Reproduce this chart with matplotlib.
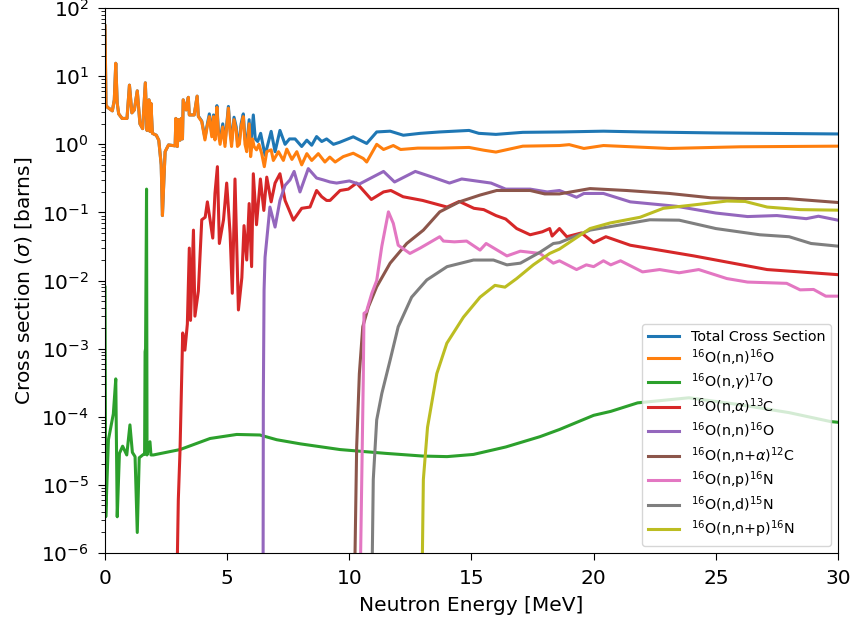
import numpy as np
import matplotlib
matplotlib.use('Agg')
import matplotlib.pyplot as plt

# neutron energies [MeV] and cross sections [barns]
total_E = [0.0, 0.04, 0.1, 0.2, 0.3, 0.38, 0.44, 0.5, 0.56, 0.7, 0.9, 1.0, 1.1, 1.2, 1.32,
           1.43, 1.54, 1.65, 1.72, 1.80, 1.84, 1.88, 1.94, 2.1, 2.2, 2.3, 2.35, 2.41, 2.46,
           2.6, 2.87, 2.9, 2.96, 3.01, 3.07, 3.12, 3.17, 3.2, 3.32, 3.41, 3.45, 3.65, 3.77,
           3.82, 3.96, 4.09, 4.19, 4.27, 4.37, 4.44, 4.5, 4.58, 4.64, 4.71, 4.82, 4.91, 5.05,
           5.12, 5.18, 5.28, 5.37, 5.42, 5.5, 5.57, 5.66, 5.73, 5.8, 5.9, 5.96, 6.07, 6.15,
           6.25, 6.37, 6.55, 6.8, 6.96, 7.16, 7.37, 7.55, 7.78, 8.05, 8.26, 8.46, 8.66, 8.87,
           9.07, 9.35, 9.6, 10.16, 10.71, 11.12, 11.67, 12.21, 12.9, 13.7, 14.9, 15.3, 16.0,
           17.1, 18.7, 20.4, 22.0, 25.0, 30.0]
total_xs = [55, 3.8, 3.5, 3.3, 3.1, 4.5, 15.5, 4.0, 2.8, 2.4, 2.4, 7.4, 2.9, 3.2, 6.1,
            2.0, 1.7, 8.0, 1.6, 4.5, 1.55, 4.0, 1.45, 1.36, 1.15, 0.5, 0.09, 0.3, 0.78,
            0.98, 0.95, 2.4, 0.93, 2.3, 1.15, 2.4, 1.2, 4.5, 3.2, 4.9, 2.7, 2.7, 5.1,
            2.6, 2.2, 1.25, 2.0, 2.8, 1.4, 2.7, 1.3, 3.7, 1.6, 1.15, 2.0, 1.05, 3.6,
            1.65, 1.1, 2.5, 1.8, 1.1, 1.15, 2.0, 2.8, 1.2, 0.95, 2.3, 0.9, 2.7, 1.2,
            1.1, 1.45, 0.69, 1.55, 0.78, 1.6, 1.0, 1.2, 1.2, 0.93, 1.15, 0.97, 1.3, 1.1,
            1.2, 1.0, 1.07, 1.29, 1.03, 1.52, 1.56, 1.36, 1.45, 1.52, 1.6, 1.45, 1.4,
            1.5, 1.52, 1.56, 1.52, 1.47, 1.42]

elastic_E = [0.0, 0.04, 0.1, 0.2, 0.3, 0.38, 0.44, 0.5, 0.56, 0.7, 0.9, 1.0, 1.1, 1.2, 1.32,
             1.43, 1.54, 1.65, 1.72, 1.80, 1.84, 1.88, 1.94, 2.1, 2.2, 2.3, 2.35, 2.41, 2.46,
             2.6, 2.87, 2.9, 2.96, 3.01, 3.07, 3.12, 3.17, 3.2, 3.32, 3.41, 3.45, 3.65, 3.77,
             3.82, 3.96, 4.09, 4.19, 4.27, 4.37, 4.44, 4.5, 4.58, 4.64, 4.71, 4.82, 4.91, 5.05,
             5.12, 5.18, 5.28, 5.37, 5.42, 5.5, 5.57, 5.66, 5.73, 5.8, 5.9, 5.96, 6.04, 6.1,
             6.2, 6.3, 6.41, 6.52, 6.62, 6.8, 6.89, 7.1, 7.3, 7.44, 7.65, 7.85, 8.05, 8.26,
             8.46, 8.73, 9.0, 9.2, 9.42, 9.75, 10.16, 10.57, 10.71, 11.12, 11.4, 11.8, 12.1,
             12.8, 13.7, 14.9, 15.5, 16.0, 17.1, 18.6, 19.0, 19.6, 20.4, 23.1, 26.0, 30.0]
elastic_xs = [55, 3.8, 3.5, 3.3, 3.1, 4.5, 15.5, 4.0, 2.8, 2.4, 2.4, 7.4, 2.9, 3.2, 6.1,
              2.0, 1.7, 8.0, 1.6, 4.5, 1.55, 4.0, 1.45, 1.36, 1.15, 0.5, 0.09, 0.3, 0.78,
              0.98, 0.95, 2.4, 0.93, 2.3, 1.15, 2.4, 1.2, 4.5, 3.2, 4.9, 2.7, 2.7, 5.1,
              2.55, 2.15, 1.16, 1.9, 2.55, 1.29, 2.55, 1.16, 3.5, 1.45, 1.0, 1.8, 0.93, 3.4,
              1.45, 0.93, 2.3, 1.6, 0.93, 1.0, 1.8, 2.55, 1.0, 0.78, 2.0, 0.66, 1.2, 0.93,
              0.83, 1.0, 0.74, 0.47, 0.78, 0.83, 0.58, 0.78, 0.58, 0.85, 0.6, 0.78, 0.5, 0.73,
              0.58, 0.73, 0.55, 0.65, 0.55, 0.66, 0.74, 0.62, 0.55, 1.0, 0.84, 0.96, 0.84,
              0.88, 0.88, 0.9, 0.82, 0.77, 0.94, 0.96, 0.99, 0.87, 0.96, 0.87, 0.92, 0.94]

capture_E = [0.0, 0.03, 0.14, 0.34, 0.44, 0.5, 0.59, 0.72, 0.89, 1.02, 1.12, 1.23, 1.32,
             1.40, 1.57, 1.62, 1.64, 1.66, 1.70, 1.72, 1.84, 1.88, 1.98, 3.07, 4.3, 5.39,
             6.34, 7.03, 8.0, 9.62, 11.5, 13.0, 14.0, 15.08, 16.4, 17.8, 18.6, 20.0, 20.7,
             21.8, 23.9, 26.0, 28.0, 29.7, 30.0]
capture_xs = [8e-3, 3.4e-6, 4.6e-5, 1.1e-4, 3.6e-4, 3.4e-6, 2.9e-5, 3.7e-5, 2.75e-5, 7.6e-5,
              3e-5, 2.6e-5, 2e-6, 2.5e-5, 2.8e-5, 2.8e-5, 9e-4, 1e-3, 0.22, 2.75e-5, 4.3e-5,
              2.75e-5, 2.75e-5, 3.3e-5, 4.8e-5, 5.5e-5, 5.4e-5, 4.6e-5, 4.0e-5, 3.3e-5, 2.9e-5,
              2.65e-5, 2.6e-5, 2.8e-5, 3.6e-5, 5.1e-5, 6.5e-5, 1.05e-4, 1.2e-4, 1.6e-4, 1.9e-4,
              1.5e-4, 1.15e-4, 8.5e-5, 8.3e-5]

alpha_E = [2.95, 3.0, 3.07, 3.18, 3.27, 3.37, 3.45, 3.5, 3.62, 3.68, 3.82, 3.96, 4.1, 4.19,
           4.3, 4.41, 4.5, 4.6, 4.68, 4.85, 4.98, 5.12, 5.21, 5.32, 5.46, 5.6, 5.69, 5.8,
           5.9, 6.0, 6.07, 6.2, 6.36, 6.5, 6.62, 6.8, 6.96, 7.16, 7.37, 7.71, 8.05, 8.39,
           8.66, 8.87, 9.07, 9.21, 9.62, 9.96, 10.3, 10.9, 11.4, 11.7, 12.2, 13.0, 14.0,
           14.5, 15.1, 15.5, 16.0, 16.4, 16.85, 17.4, 17.9, 18.2, 18.3, 18.6, 18.9, 19.5,
           20.0, 20.5, 21.5, 24.1, 27.1, 30.0]
alpha_xs = [5e-7, 6e-6, 3.2e-5, 1.7e-3, 9.5e-4, 2.3e-3, 0.03, 2.6e-3, 0.055, 3e-3, 7e-3,
            0.078, 0.085, 0.143, 0.078, 0.042, 0.19, 0.47, 0.035, 0.078, 0.27, 0.049, 6.5e-3,
            0.31, 3.7e-3, 0.011, 0.064, 0.02, 0.135, 0.016, 0.37, 0.066, 0.31, 0.107, 0.33,
            0.143, 0.27, 0.37, 0.15, 0.077, 0.115, 0.12, 0.21, 0.17, 0.15, 0.15, 0.21, 0.22,
            0.27, 0.155, 0.2, 0.21, 0.17, 0.15, 0.12, 0.145, 0.115, 0.11, 0.09, 0.08, 0.058,
            0.047, 0.052, 0.058, 0.045, 0.058, 0.044, 0.05, 0.036, 0.044, 0.033, 0.023,
            0.0145, 0.0122]

inel_E = [6.47, 6.48, 6.51, 6.55, 6.75, 6.96, 7.16, 7.37, 7.57, 7.74, 7.98, 8.32, 8.66,
          8.94, 9.21, 9.48, 10.0, 10.4, 11.4, 11.85, 12.7, 13.4, 14.1, 14.6, 15.8, 16.4,
          17.4, 18.1, 18.6, 19.3, 19.6, 20.4, 21.5, 23.4, 25.0, 26.3, 27.5, 28.7, 29.2, 30.0]
inel_xs = [5e-7, 1.9e-4, 7.2e-3, 0.022, 0.12, 0.061, 0.15, 0.25, 0.3, 0.4, 0.2, 0.44, 0.32,
           0.3, 0.28, 0.27, 0.29, 0.26, 0.4, 0.28, 0.4, 0.33, 0.27, 0.31, 0.27, 0.22,
           0.22, 0.2, 0.21, 0.167, 0.19, 0.19, 0.143, 0.123, 0.098, 0.087, 0.09, 0.081,
           0.088, 0.077]

na_E = [10.22, 10.3, 10.41, 10.55, 10.78, 11.12, 11.67, 12.35, 13.03, 13.7, 14.5, 15.35,
        16.03, 17.4, 18.0, 18.6, 19.85, 21.35, 23.1, 24.8, 26.0, 27.9, 30.0]
na_xs = [5e-7, 3.6e-5, 4.3e-4, 2.1e-3, 4.1e-3, 8.1e-3, 0.018, 0.035, 0.055, 0.102, 0.143,
         0.18, 0.21, 0.21, 0.187, 0.187, 0.224, 0.21, 0.19, 0.164, 0.16, 0.16, 0.14]

np_E = [10.45, 10.57, 10.6, 10.7, 10.92, 11.12, 11.33, 11.6, 11.8, 12.0, 12.48, 12.9, 13.7,
        13.85, 14.3, 14.8, 15.35, 15.6, 16.45, 17.0, 17.8, 18.35, 18.6, 19.3, 19.7, 20.0,
        20.4, 20.7, 21.1, 22.0, 22.7, 23.5, 24.3, 25.45, 26.3, 27.9, 28.45, 29.0, 29.5, 30.0]
np_xs = [5e-7, 3.5e-4, 3.3e-3, 3.5e-3, 6.5e-3, 0.01, 0.032, 0.102, 0.069, 0.033, 0.025,
         0.03, 0.044, 0.038, 0.037, 0.038, 0.028, 0.035, 0.023, 0.027, 0.025, 0.018, 0.0195,
         0.0145, 0.017, 0.016, 0.0195, 0.017, 0.0195, 0.0134, 0.0145, 0.013, 0.0145,
         0.0107, 0.0095, 0.0091, 0.0073, 0.0074, 0.0059, 0.0059]

nd_E = [10.93, 10.98, 11.12, 11.33, 11.67, 12.0, 12.55, 13.17, 14.0, 15.08, 15.9, 16.45,
        17.0, 17.8, 18.35, 18.6, 19.85, 20.8, 22.3, 23.5, 25.0, 26.8, 28.0, 28.9, 30.0]
nd_xs = [5e-7, 1.2e-5, 9e-5, 2.2e-4, 6.8e-4, 2.1e-3, 5.7e-3, 0.0102, 0.016, 0.02, 0.02,
         0.017, 0.018, 0.026, 0.035, 0.036, 0.055, 0.063, 0.078, 0.077, 0.058, 0.047,
         0.044, 0.035, 0.032]

nnp_E = [12.98, 13.03, 13.2, 13.58, 13.99, 14.67, 15.35, 15.96, 16.37, 16.85, 17.53, 18.2,
         18.6, 19.85, 20.67, 21.9, 22.85, 24.1, 25.45, 26.2, 27.1, 28.45, 30.0]
nnp_xs = [5e-7, 1.2e-5, 7e-5, 4.3e-4, 1.2e-3, 2.9e-3, 5.7e-3, 8.5e-3, 8e-3, 0.0107, 0.017,
          0.025, 0.029, 0.058, 0.07, 0.085, 0.115, 0.129, 0.147, 0.145, 0.12, 0.11, 0.108]

series = [
    (total_E, total_xs, 'Total Cross Section'),
    (elastic_E, elastic_xs, r'$^{16}$O(n,n)$^{16}$O'),
    (capture_E, capture_xs, r'$^{16}$O(n,$\gamma$)$^{17}$O'),
    (alpha_E, alpha_xs, r'$^{16}$O(n,$\alpha$)$^{13}$C'),
    (inel_E, inel_xs, r'$^{16}$O(n,n)$^{16}$O'),
    (na_E, na_xs, r'$^{16}$O(n,n+$\alpha$)$^{12}$C'),
    (np_E, np_xs, r'$^{16}$O(n,p)$^{16}$N'),
    (nd_E, nd_xs, r'$^{16}$O(n,d)$^{15}$N'),
    (nnp_E, nnp_xs, r'$^{16}$O(n,n+p)$^{16}$N'),
]

fig, ax = plt.subplots(figsize=(8.51, 6.24), dpi=100)
fig.subplots_adjust(left=0.1234, right=0.9847, top=0.987, bottom=0.1138)
for E, xs, lab in series:
    ax.plot(E, xs, lw=2.2, label=lab)
ax.set_yscale('log')
ax.set_xlim(0, 30)
ax.set_ylim(1e-6, 1e2)
ax.tick_params(which='major', labelsize=14.5, length=5, pad=6.5)
ax.tick_params(which='minor', length=3)
ax.set_xlabel('Neutron Energy [MeV]', fontsize=14.5, labelpad=6)
ax.set_ylabel(r'Cross section ($\sigma$) [barns]', fontsize=14.5, labelpad=5)
ax.legend(loc='lower right', fontsize=10.3, labelspacing=0.25, handlelength=2.2)
fig.savefig('out.png', dpi=100)
